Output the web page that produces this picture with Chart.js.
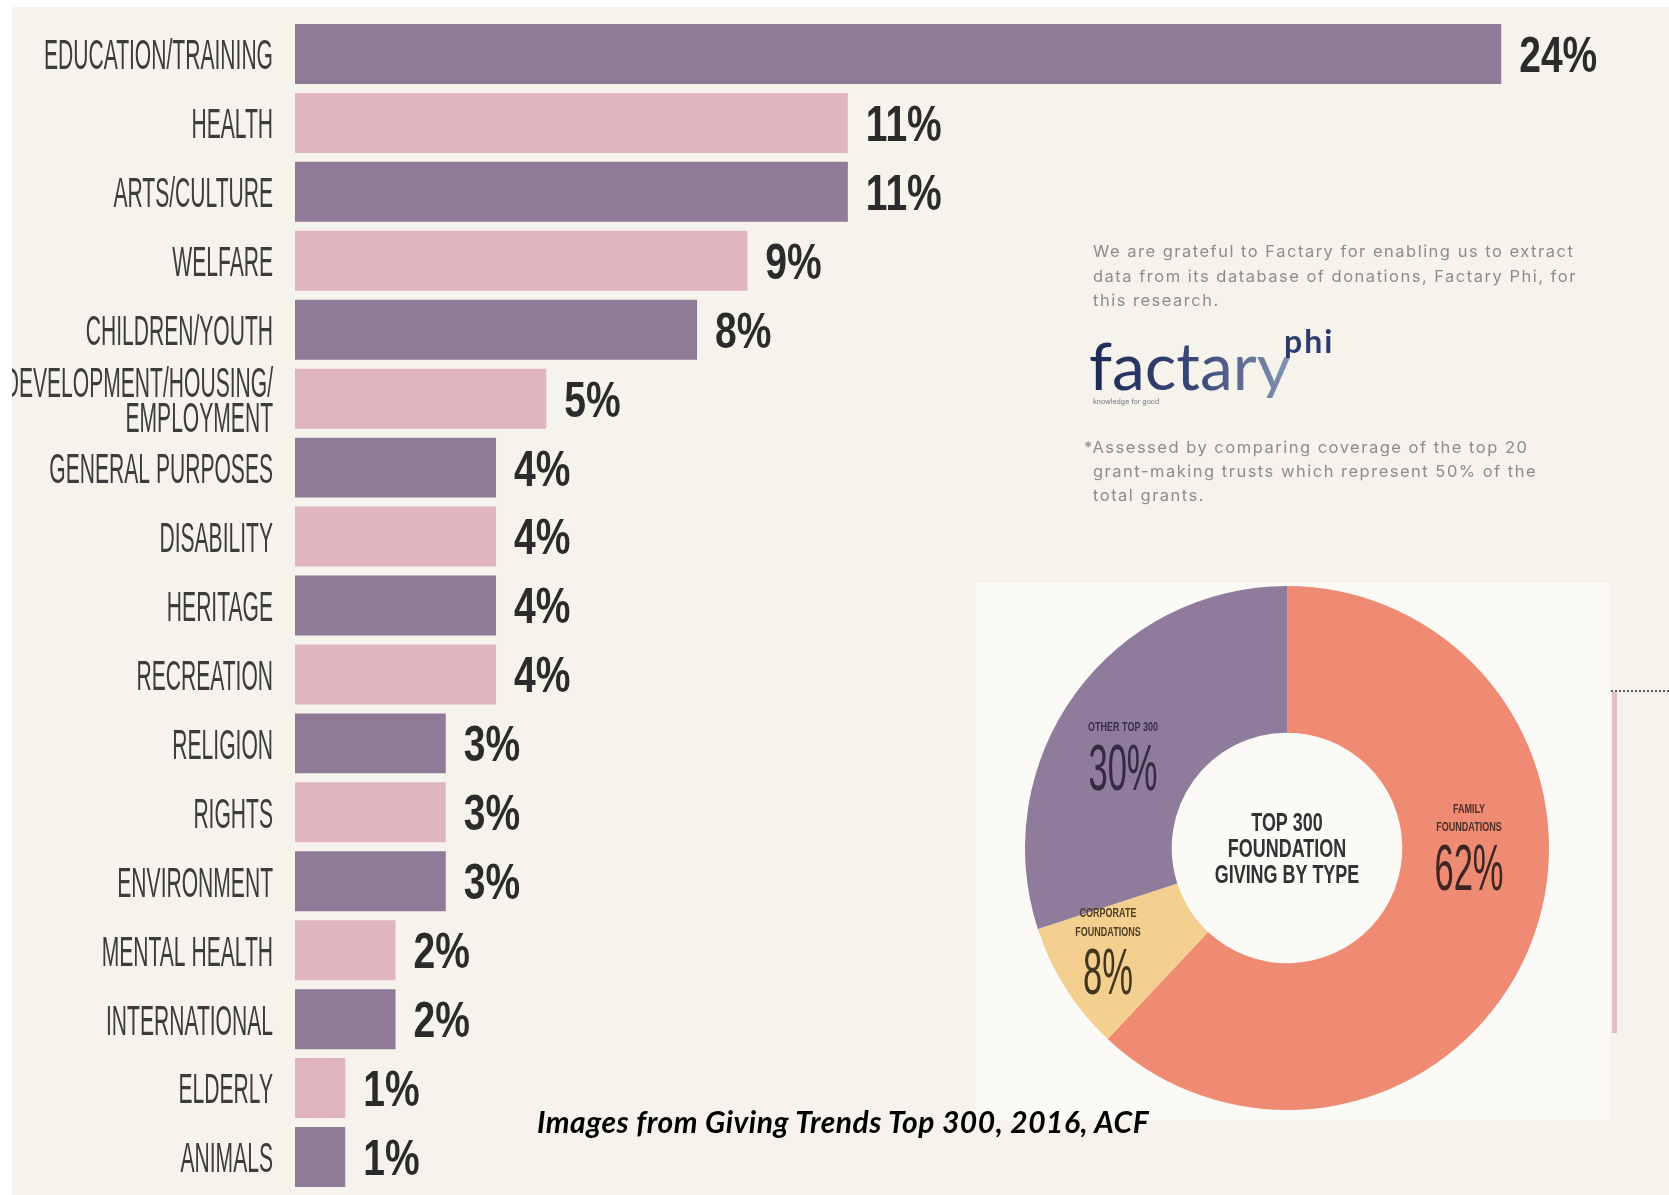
<!DOCTYPE html>
<html>
<head>
<meta charset="utf-8">
<script src="https://cdn.jsdelivr.net/npm/chart.js@4.4.1/dist/chart.umd.min.js"></script>
<style>
  html, body { margin: 0; padding: 0; background: #ffffff; }
  body { width: 1669px; height: 1195px; position: relative; overflow: hidden; font-family: 'Liberation Sans', Arial, sans-serif; }
  #paper { position: absolute; left: 12px; top: 7px; right: 0; bottom: 0; background: #f6f3ed; }
  #panel { position: absolute; left: 976px; top: 583px; width: 634px; height: 537px; background: #fbfaf6; }
  #bars { position: absolute; left: 0; top: 0; }
  #donut { position: absolute; left: 1025px; top: 586px; }
  .note { position: absolute; font-family: Inter, 'Open Sans', sans-serif; font-size: 16.5px; letter-spacing: 1.5px; color: #8c8c8c; line-height: 24px; white-space: nowrap; }
  #logo { position: absolute; left: 1089px; top: 332px; font-family: Lato, sans-serif; font-size: 66px; line-height: 66px; white-space: nowrap;
          background: linear-gradient(90deg, #1c2957 0%, #3b4a78 55%, #8596b5 100%); -webkit-background-clip: text; background-clip: text; color: transparent; }
  #logoSup { position: absolute; left: 1284px; top: 325px; font-family: Lato, sans-serif; font-weight: 700; font-size: 32px; letter-spacing: 2px; line-height: 32px; color: #2c3a6c; }
  #tagline { position: absolute; left: 1093px; top: 397px; font-family: Inter, sans-serif; font-size: 7px; color: #6f7480; white-space: nowrap; }
  #caption { position: absolute; left: 537px; top: 1105px; font-family: Lato, sans-serif; font-weight: 700; font-style: italic; font-size: 30px; letter-spacing: 0.5px; line-height: 32px; color: #000; white-space: nowrap; }
  #pinkRule { position: absolute; left: 1612px; top: 692px; width: 5px; height: 341px; background: #e3bec8; }
  #dotRule { position: absolute; left: 1611px; top: 690px; width: 58px; height: 0; border-top: 2px dotted #5a5a5a; }
  #edgeL { position: absolute; left: 0; top: 0; width: 12px; height: 1195px; background: #ffffff; }
  #edgeT { position: absolute; left: 0; top: 0; width: 1669px; height: 7px; background: #ffffff; }
</style>
</head>
<body>
<div id="paper"></div>
<div id="panel"></div>
<div id="pinkRule"></div>
<div id="dotRule"></div>
<canvas id="bars" width="1669" height="1195"></canvas>
<canvas id="donut" width="524" height="524"></canvas>

<div class="note" style="left:1093px; top:239px;">We are grateful to Factary for enabling us to extract</div>
<div class="note" style="left:1093px; top:264px;">data from its database of donations, Factary Phi, for</div>
<div class="note" style="left:1093px; top:288px;">this research.</div>
<div id="logo">factary</div>
<div id="logoSup">phi</div>
<div id="tagline">knowledge for good</div>
<div class="note" style="left:1084px; top:435px;">*Assessed by comparing coverage of the top 20</div>
<div class="note" style="left:1093px; top:459px;">grant-making trusts which represent 50% of the</div>
<div class="note" style="left:1093px; top:483px;">total grants.</div>

<div id="caption">Images from Giving Trends Top 300, 2016, ACF</div>
<div id="edgeL"></div>
<div id="edgeT"></div>

<script>
// Share of grant value by cause area (%)
const causes = [
  'EDUCATION/TRAINING', 'HEALTH', 'ARTS/CULTURE', 'WELFARE', 'CHILDREN/YOUTH',
  ['DEVELOPMENT/HOUSING/', 'EMPLOYMENT'], 'GENERAL PURPOSES', 'DISABILITY', 'HERITAGE',
  'RECREATION', 'RELIGION', 'RIGHTS', 'ENVIRONMENT', 'MENTAL HEALTH', 'INTERNATIONAL',
  'ELDERLY', 'ANIMALS'
];
const causeShare = [24, 11, 11, 9, 8, 5, 4, 4, 4, 4, 3, 3, 3, 2, 2, 1, 1];

// Top 300 foundation giving by type (%)
const foundationTypes = ['FAMILY FOUNDATIONS', 'CORPORATE FOUNDATIONS', 'OTHER TOP 300'];
const typeShare = [62, 8, 30];

const PURPLE = '#8f7b98';
const PINK = '#e0b5bf';
const barColors = causeShare.map((_, i) => (i % 2 === 0 ? PURPLE : PINK));
const typeColors = ['#ef8b72', '#f3cf90', '#8f7b9b'];

// Draw text horizontally compressed to imitate a condensed display face,
// vertically centred on the cap height.
function squeezed(ctx, text, x, yCenter, size, weight, sx, align, color) {
  ctx.save();
  ctx.font = weight + ' ' + size + 'px "Liberation Sans", Arial, sans-serif';
  ctx.fillStyle = color;
  ctx.textBaseline = 'alphabetic';
  ctx.textAlign = align;
  ctx.translate(x, yCenter + size * 0.358);
  ctx.scale(sx, 1);
  ctx.fillText(text, 0, 0);
  ctx.restore();
}

const barLabels = {
  id: 'barLabels',
  afterDatasetsDraw(chart) {
    const ctx = chart.ctx;
    const yScale = chart.scales.y;
    const left = chart.chartArea.left;
    // category names to the left of the bars
    causes.forEach((name, i) => {
      const y = yScale.getPixelForValue(i);
      const lines = Array.isArray(name) ? name : [name];
      const gap = 35;
      lines.forEach((ln, k) => {
        const yy = y + (k - (lines.length - 1) / 2) * gap;
        squeezed(ctx, ln, left - 22, yy, 43, 'normal', 0.49, 'right', '#3c3c3c');
      });
    });
    // value labels after each bar end
    const meta = chart.getDatasetMeta(0);
    meta.data.forEach((bar, i) => {
      squeezed(ctx, causeShare[i] + '%', bar.x + 18, bar.y, 50, 'bold', 0.78, 'left', '#2b2b2b');
    });
  }
};

new Chart(document.getElementById('bars'), {
  type: 'bar',
  data: {
    labels: causes,
    datasets: [{
      data: causeShare,
      backgroundColor: barColors,
      borderWidth: 0,
      categoryPercentage: 1,
      barPercentage: 0.87
    }]
  },
  options: {
    indexAxis: 'y',
    responsive: false,
    animation: false,
    devicePixelRatio: 1,
    layout: { padding: { left: 295, right: 17, top: 19.5, bottom: 3.5 } },
    scales: {
      x: { display: false, min: 0, max: 27 },
      y: { display: false }
    },
    plugins: { legend: { display: false }, tooltip: { enabled: false } }
  },
  plugins: [barLabels]
});

const donutLabels = {
  id: 'donutLabels',
  afterDatasetsDraw(chart) {
    const ctx = chart.ctx;
    const a = chart.chartArea;
    const cx = (a.left + a.right) / 2;
    const cy = (a.top + a.bottom) / 2;
    // centre title
    squeezed(ctx, 'TOP 300', cx, cy - 26, 26, 'bold', 0.69, 'center', '#333333');
    squeezed(ctx, 'FOUNDATION', cx, cy, 26, 'bold', 0.69, 'center', '#333333');
    squeezed(ctx, 'GIVING BY TYPE', cx, cy + 26, 26, 'bold', 0.69, 'center', '#333333');
    // family
    squeezed(ctx, 'FAMILY', cx + 182, cy - 39, 12, 'bold', 0.75, 'center', '#4a2e28');
    squeezed(ctx, 'FOUNDATIONS', cx + 182, cy - 21, 12, 'bold', 0.75, 'center', '#4a2e28');
    squeezed(ctx, typeShare[0] + '%', cx + 182, cy + 19, 64, 'normal', 0.54, 'center', '#3e2622');
    // corporate
    squeezed(ctx, 'CORPORATE', cx - 179, cy + 65, 12, 'bold', 0.75, 'center', '#4d3d22');
    squeezed(ctx, 'FOUNDATIONS', cx - 179, cy + 84, 12, 'bold', 0.75, 'center', '#4d3d22');
    squeezed(ctx, typeShare[1] + '%', cx - 179, cy + 123, 64, 'normal', 0.54, 'center', '#43361f');
    // other
    squeezed(ctx, 'OTHER TOP 300', cx - 164, cy - 121, 12, 'bold', 0.75, 'center', '#3a2f46');
    squeezed(ctx, typeShare[2] + '%', cx - 164, cy - 81, 64, 'normal', 0.54, 'center', '#352a40');
  }
};

new Chart(document.getElementById('donut'), {
  type: 'doughnut',
  data: {
    labels: foundationTypes,
    datasets: [{
      data: typeShare,
      backgroundColor: typeColors,
      borderWidth: 0,
      hoverOffset: 0,
      offset: 0
    }]
  },
  options: {
    responsive: false,
    animation: false,
    devicePixelRatio: 1,
    cutout: '44%',
    layout: { padding: 0 },
    plugins: { legend: { display: false }, tooltip: { enabled: false } }
  },
  plugins: [donutLabels]
});
</script>
</body>
</html>
